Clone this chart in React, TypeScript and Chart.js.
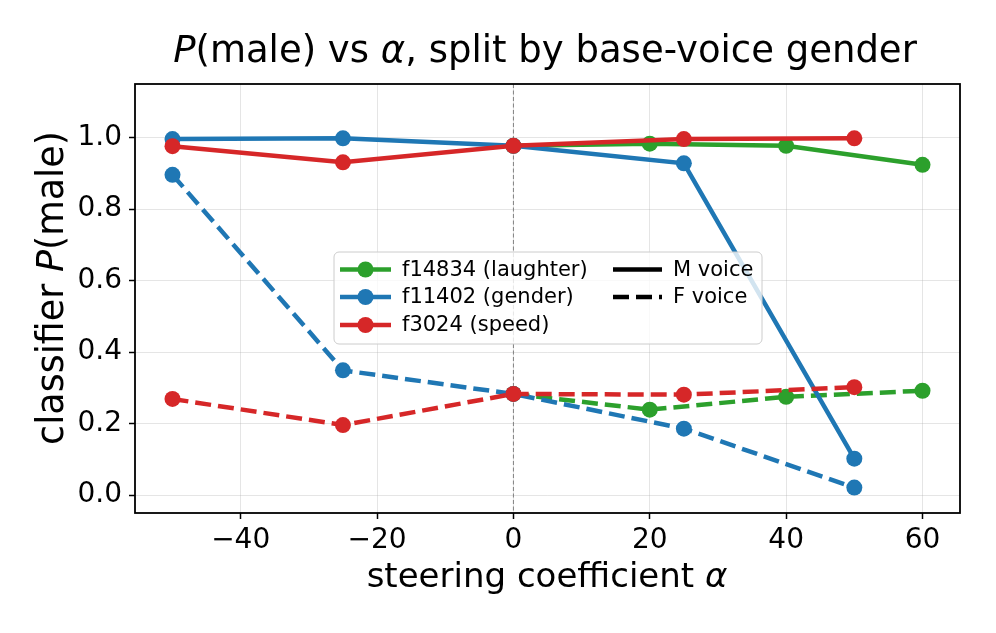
import React, { useEffect, useRef } from 'react';
import { Chart, registerables } from 'chart.js';

Chart.register(...registerables);

// ---------------- data ----------------
const alphaShared = [-50, -25, 0, 25, 50];
const alphaLaughter = [0, 20, 40, 60];

const laughterM = [0.977, 0.983, 0.977, 0.924];
const laughterF = [0.283, 0.239, 0.275, 0.292];
const genderM = [0.996, 0.998, 0.977, 0.928, 0.102];
const genderF = [0.896, 0.349, 0.283, 0.186, 0.021];
const speedM = [0.976, 0.931, 0.977, 0.996, 0.998];
const speedF = [0.269, 0.196, 0.283, 0.281, 0.302];

const featureNames = ['f14834 (laughter)', 'f11402 (gender)', 'f3024 (speed)'];
const featureColors = ['#2ca02c', '#1f77b4', '#d62728'];
const voiceNames = ['M voice', 'F voice'];

const xTicks = [-40, -20, 0, 20, 40, 60];
const yTicks = [0, 0.2, 0.4, 0.6, 0.8, 1.0];

const titleParts: [string, boolean][] = [['P', true], ['(male) vs ', false], ['α', true], [', split by base-voice gender', false]];
const xLabelParts: [string, boolean][] = [['steering coefficient ', false], ['α', true]];
const yLabelParts: [string, boolean][] = [['classifier ', false], ['P', true], ['(male)', false]];

const FONT = '"DejaVu Sans"';
const DASH = [16, 7];

function pts(xs: number[], ys: number[]) {
  return xs.map((x, i) => ({ x, y: ys[i] }));
}

function drawRich(ctx: CanvasRenderingContext2D, parts: [string, boolean][], cx: number, y: number, size: number) {
  const widths = parts.map(([t, it]) => {
    ctx.font = `${it ? 'italic ' : ''}${size}px ${FONT}`;
    return ctx.measureText(t).width;
  });
  const total = widths.reduce((a, b) => a + b, 0);
  let x = cx - total / 2;
  ctx.textAlign = 'left';
  ctx.textBaseline = 'alphabetic';
  ctx.fillStyle = '#000';
  parts.forEach(([t, it], i) => {
    ctx.font = `${it ? 'italic ' : ''}${size}px ${FONT}`;
    ctx.fillText(t, x, y);
    x += widths[i];
  });
}

const decorPlugin = {
  id: 'decor',
  beforeDatasetsDraw(chart: any) {
    const { ctx, chartArea, scales } = chart;
    const x0 = scales.x.getPixelForValue(0);
    ctx.save();
    ctx.strokeStyle = '#808080';
    ctx.lineWidth = 1;
    ctx.setLineDash([4, 2.5]);
    ctx.beginPath();
    ctx.moveTo(x0, chartArea.top);
    ctx.lineTo(x0, chartArea.bottom);
    ctx.stroke();
    ctx.restore();
  },
  afterDraw(chart: any) {
    const { ctx, chartArea } = chart;
    ctx.save();
    // frame
    ctx.strokeStyle = '#000';
    ctx.lineWidth = 1.8;
    ctx.setLineDash([]);
    ctx.strokeRect(chartArea.left, chartArea.top, chartArea.right - chartArea.left, chartArea.bottom - chartArea.top);

    // legend
    const bx = 334, by = 252, bw = 428, bh = 92;
    ctx.beginPath();
    (ctx as any).roundRect(bx, by, bw, bh, 5);
    ctx.fillStyle = 'rgba(255,255,255,0.8)';
    ctx.fill();
    ctx.strokeStyle = '#cccccc';
    ctx.lineWidth = 1;
    ctx.stroke();

    const rowY = [269.5, 297, 325];
    ctx.font = `21px ${FONT}`;
    ctx.textBaseline = 'middle';
    ctx.textAlign = 'left';
    featureNames.forEach((name, i) => {
      const y = rowY[i];
      ctx.strokeStyle = featureColors[i];
      ctx.lineWidth = 4.5;
      ctx.setLineDash([]);
      ctx.beginPath();
      ctx.moveTo(340, y);
      ctx.lineTo(391, y);
      ctx.stroke();
      ctx.fillStyle = featureColors[i];
      ctx.beginPath();
      ctx.arc(365.5, y, 8, 0, Math.PI * 2);
      ctx.fill();
      ctx.fillStyle = '#000';
      ctx.fillText(name, 402, y + 1);
    });
    voiceNames.forEach((name, i) => {
      const y = rowY[i];
      ctx.strokeStyle = '#000';
      ctx.lineWidth = 4.5;
      ctx.setLineDash(i === 0 ? [] : DASH);
      ctx.beginPath();
      ctx.moveTo(613, y);
      ctx.lineTo(662, y);
      ctx.stroke();
      ctx.setLineDash([]);
      ctx.fillStyle = '#000';
      ctx.fillText(name, 673, y + 1);
    });

    // titles
    drawRich(ctx, titleParts, 545, 62, 37);
    drawRich(ctx, xLabelParts, 547, 587, 34);
    ctx.translate(63, 288);
    ctx.rotate(-Math.PI / 2);
    drawRich(ctx, yLabelParts, 0, 0, 36.5);
    ctx.restore();
  },
};

function makeDataset(xs: number[], ys: number[], color: string, dashed: boolean, order: number) {
  return {
    data: pts(xs, ys),
    borderColor: color,
    backgroundColor: color,
    pointBackgroundColor: color,
    pointBorderColor: color,
    pointBorderWidth: 0,
    pointRadius: 8,
    borderWidth: 4.5,
    borderDash: dashed ? DASH : [],
    showLine: true,
    fill: false,
    tension: 0,
    order,
  };
}

export default function App() {
  const ref = useRef<HTMLCanvasElement | null>(null);

  useEffect(() => {
    document.body.style.margin = '0';
    const canvas = ref.current!;
    const chart = new Chart(canvas, {
      type: 'line',
      data: {
        datasets: [
          makeDataset(alphaLaughter, laughterM, featureColors[0], false, 5),
          makeDataset(alphaLaughter, laughterF, featureColors[0], true, 4),
          makeDataset(alphaShared, genderM, featureColors[1], false, 3),
          makeDataset(alphaShared, genderF, featureColors[1], true, 2),
          makeDataset(alphaShared, speedM, featureColors[2], false, 1),
          makeDataset(alphaShared, speedF, featureColors[2], true, 0),
        ],
      },
      options: {
        responsive: false,
        animation: false,
        events: [],
        devicePixelRatio: 1,
        layout: { padding: { top: 84, right: 36, left: 0, bottom: 0 } },
        plugins: { legend: { display: false }, tooltip: { enabled: false }, title: { display: false } },
        scales: {
          x: {
            type: 'linear',
            min: -55.5,
            max: 65.5,
            afterBuildTicks: (s: any) => { s.ticks = xTicks.map((v) => ({ value: v })); },
            afterFit: (s: any) => { s.height = 120; },
            border: { display: false },
            grid: { color: 'rgba(176,176,176,0.33)', lineWidth: 1, drawTicks: true, tickLength: 6, tickColor: '#000', tickWidth: 1.5 },
            ticks: {
              color: '#000',
              padding: 5,
              maxRotation: 0,
              autoSkip: false,
              font: { family: FONT, size: 28 },
              callback: (v: any) => (Number(v) < 0 ? '\u2212' + Math.abs(Number(v)) : String(v)),
            },
          },
          y: {
            type: 'linear',
            min: -0.05,
            max: 1.15,
            afterBuildTicks: (s: any) => { s.ticks = yTicks.map((v) => ({ value: v })); },
            afterFit: (s: any) => { s.width = 135; },
            border: { display: false },
            grid: { color: 'rgba(176,176,176,0.33)', lineWidth: 1, drawTicks: true, tickLength: 6, tickColor: '#000', tickWidth: 1.5 },
            ticks: {
              color: '#000',
              padding: 7,
              autoSkip: false,
              font: { family: FONT, size: 28 },
              callback: (v: any) => Number(v).toFixed(1),
            },
          },
        },
      } as any,
      plugins: [decorPlugin],
    });
    return () => chart.destroy();
  }, []);

  return (
    <div style={{ width: 996, height: 633 }}>
      <canvas ref={ref} width={996} height={633} />
    </div>
  );
}
